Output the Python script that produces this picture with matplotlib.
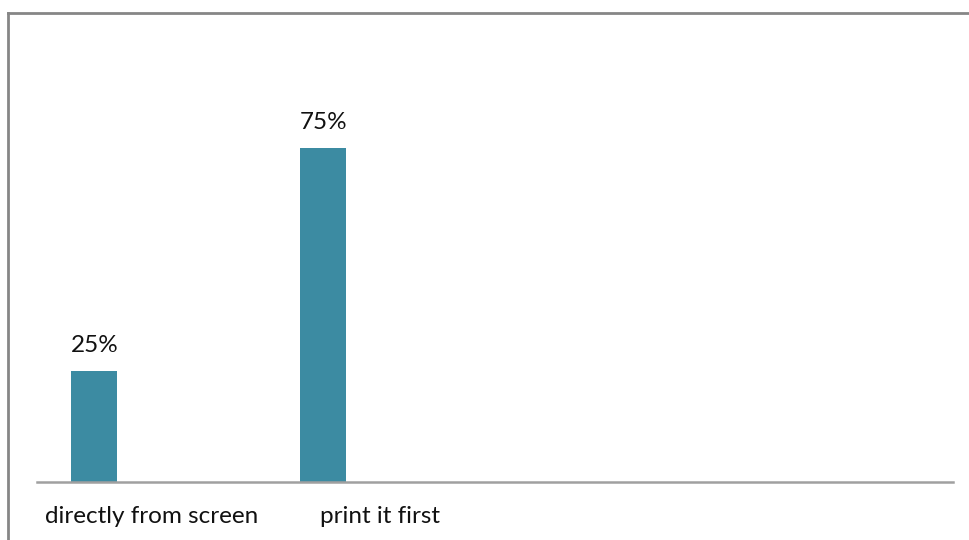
import matplotlib
matplotlib.use("Agg")
import matplotlib.pyplot as plt
from matplotlib.lines import Line2D

categories = ["directly from screen", "print it first"]
values = [25, 75]
value_labels = ["25%", "75%"]

plt.rcParams['font.family'] = ['Lato', 'DejaVu Sans']

fig = plt.figure(figsize=(9.7, 5.4), dpi=100)
ax = fig.add_axes([37/970, 58/540, 916/970, 446/540])

x = list(range(len(categories)))
bar_x = [i - 0.25 for i in x]
bars = ax.bar(bar_x, values, width=0.2, color="#3C8BA2")

for bx, v, lab in zip(bar_x, values, value_labels):
    ax.annotate(lab, (bx, v), xytext=(0, 10.5), textcoords="offset points",
                ha="center", va="bottom", fontsize=17.5, color="#111111")

ax.set_xlim(-0.5, 3.5)
ax.set_ylim(0, 100)
ax.set_xticks(x)
ax.set_xticklabels(categories, fontsize=17.5, color="#111111")
ax.tick_params(axis="x", length=0, pad=17.5)
ax.set_yticks([])
for s in ["top", "right", "left"]:
    ax.spines[s].set_visible(False)
ax.spines["bottom"].set_color("#A0A0A0")
ax.spines["bottom"].set_linewidth(1.8)

# figure border (top and left visible)
fig.add_artist(Line2D([8/970, 8/970], [0, 1 - 13/540], transform=fig.transFigure,
                      color="#868686", linewidth=2))
fig.add_artist(Line2D([8/970, 1], [1 - 13/540, 1 - 13/540], transform=fig.transFigure,
                      color="#868686", linewidth=2))

fig.savefig("out.png", dpi=100)
